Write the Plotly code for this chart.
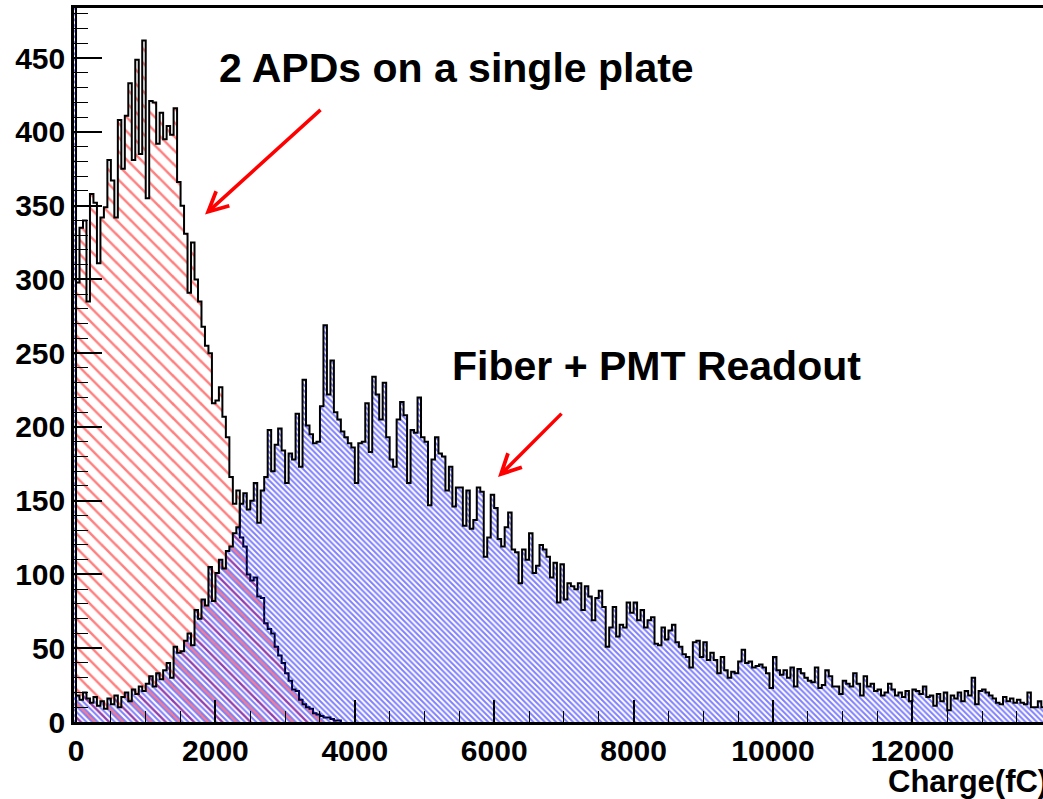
import numpy as np
import plotly.graph_objects as go

BIN_WIDTH = 50  # fC per bin

# "Fiber + PMT Readout" histogram (first bin is the pedestal just below 0 fC)
blue_start = -50
blue_counts = [
    2000,
    18, 15, 20, 16, 13, 17, 11, 14, 9, 16,
    12, 18, 10, 17, 20, 14, 22, 19, 24, 21,
    26, 31, 24, 33, 29, 35, 40, 30, 51, 47,
    48, 55, 60, 52, 76, 70, 83, 79, 105, 82,
    101, 110, 104, 116, 119, 128, 132, 148, 155, 144,
    150, 162, 135, 157, 166, 198, 170, 188, 199, 184,
    162, 182, 178, 209, 173, 232, 201, 195, 189, 190,
    214, 269, 222, 245, 210, 205, 197, 193, 189, 186,
    162, 189, 190, 216, 183, 234, 222, 205, 230, 193,
    178, 173, 205, 217, 208, 162, 198, 196, 220, 193,
    190, 147, 178, 193, 182, 180, 157, 173, 146, 159,
    159, 133, 157, 131, 137, 159, 156, 112, 125, 154,
    145, 124, 119, 132, 142, 117, 115, 94, 117, 110,
    128, 101, 106, 120, 117, 112, 98, 108, 81, 107,
    83, 94, 92, 90, 94, 76, 92, 85, 69, 84,
    89, 78, 51, 64, 78, 58, 66, 64, 81, 74,
    81, 69, 76, 64, 69, 71, 53, 52, 64, 56,
    62, 66, 54, 51, 46, 44, 37, 54, 55, 44,
    54, 42, 47, 42, 33, 44, 35, 30, 34, 33,
    41, 49, 40, 41, 37, 38, 39, 37, 33, 23,
    44, 35, 32, 35, 30, 37, 24, 36, 33, 30,
    28, 27, 37, 23, 25, 35, 31, 24, 24, 19,
    28, 26, 24, 33, 26, 18, 31, 24, 26, 21,
    22, 18, 20, 26, 22, 18, 20, 17, 21, 14,
    22, 21, 19, 24, 17, 18, 11, 19, 14, 20,
    8, 18, 16, 20, 14, 21, 18, 30, 12, 21,
    22, 20, 18, 16, 13, 12, 17, 14, 16, 13,
    15, 13, 12, 20, 10, 10, 14, 10, 14,
]

# "2 APDs on a single plate" histogram
red_start = 0
red_counts = [
    298, 335, 340, 285, 358, 352, 311, 342, 349, 381,
    367, 342, 408, 375, 411, 433, 381, 449, 385, 462,
    355, 421, 420, 392, 413, 395, 404, 398, 416, 366,
    350, 331, 291, 325, 300, 285, 268, 255, 250, 216,
    218, 227, 207, 193, 166, 148, 157, 125, 119, 100,
    96, 98, 85, 84, 67, 63, 60, 51, 45, 40,
    33, 28, 22, 21, 15, 12, 10, 9, 6, 5,
    4, 3, 3, 2, 1, 1,
]

x_ticks = [0, 2000, 4000, 6000, 8000, 10000, 12000]
y_ticks = [0, 50, 100, 150, 200, 250, 300, 350, 400, 450]
x_title = "Charge(fC)"
label_apd = "2 APDs on a single plate"
label_pmt = "Fiber + PMT Readout"


def step_xy(start, counts):
    counts = np.asarray(counts, dtype=float)
    edges = start + BIN_WIDTH * np.arange(len(counts) + 1)
    x = np.concatenate([[edges[0]], edges[:-1], [edges[-1], edges[-1]]])
    y = np.concatenate([[0.0], counts, [counts[-1], 0.0]])
    return x, y


rx, ry = step_xy(red_start, red_counts)
bx, by = step_xy(blue_start, blue_counts)

fig = go.Figure()
fig.add_trace(go.Scatter(
    x=rx, y=ry, mode="lines",
    line=dict(color="black", width=2, shape="hv"),
    fill="tozeroy", fillcolor="rgba(0,0,0,0)",
    fillpattern=dict(shape="\\", fgcolor="rgb(255,0,0)", size=10, solidity=0.25),
    hoverinfo="skip", showlegend=False,
))
fig.add_trace(go.Scatter(
    x=bx, y=by, mode="lines",
    line=dict(color="black", width=2, shape="hv"),
    fill="tozeroy", fillcolor="rgba(0,0,0,0)",
    fillpattern=dict(shape="\\", fgcolor="rgb(0,0,255)", size=4, solidity=0.5),
    hoverinfo="skip", showlegend=False,
))

FONT = "Liberation Sans, Arial, sans-serif"
tickfont = dict(family=FONT, size=30, color="black", weight="bold")

fig.update_layout(
    width=1043, height=799, autosize=False,
    margin=dict(l=74, r=0, t=8, b=77, pad=0),
    paper_bgcolor="white", plot_bgcolor="white",
    xaxis=dict(
        range=[-29, 13874], tickvals=x_ticks, ticktext=[str(v) for v in x_ticks],
        ticks="inside", ticklen=22, tickwidth=1.5, tickcolor="black",
        minor=dict(dtick=500, ticks="inside", ticklen=11, tickwidth=1.2, tickcolor="black", showgrid=False),
        showline=True, linecolor="black", linewidth=2.5, mirror=True,
        showgrid=False, zeroline=False, tickfont=tickfont,
    ),
    yaxis=dict(
        range=[0, 484], tickvals=y_ticks, ticktext=[str(v) for v in y_ticks],
        ticks="inside", ticklen=28, tickwidth=1.5, tickcolor="black",
        minor=dict(dtick=10, ticks="inside", ticklen=14, tickwidth=1.2, tickcolor="black", showgrid=False),
        showline=True, linecolor="black", linewidth=2.5, mirror=False,
        showgrid=False, zeroline=False, tickfont=tickfont,
    ),
)

fig.add_annotation(
    text=label_apd, xref="paper", yref="paper", x=0.1475, y=0.916,
    xanchor="left", yanchor="middle", showarrow=False,
    font=dict(family=FONT, size=41, color="black", weight="bold"),
)
fig.add_annotation(
    text=label_pmt, xref="paper", yref="paper", x=0.388, y=0.4986,
    xanchor="left", yanchor="middle", showarrow=False,
    font=dict(family=FONT, size=41, color="black", weight="bold"),
)
fig.add_annotation(
    text=x_title, xref="paper", yref="paper", x=0.838, y=-0.084,
    xanchor="left", yanchor="middle", showarrow=False,
    font=dict(family=FONT, size=31, color="black", weight="bold"),
)
# arrows
fig.add_annotation(
    x=1851, y=344, xref="x", yref="y", text="", showarrow=True,
    ax=117, ay=-106, arrowcolor="red", arrowwidth=3.5, arrowhead=5, arrowsize=1.1,
)
fig.add_annotation(
    x=6055, y=166, xref="x", yref="y", text="", showarrow=True,
    ax=65, ay=-65, arrowcolor="red", arrowwidth=3.5, arrowhead=5, arrowsize=1.1,
)

fig.write_html("out.html")
